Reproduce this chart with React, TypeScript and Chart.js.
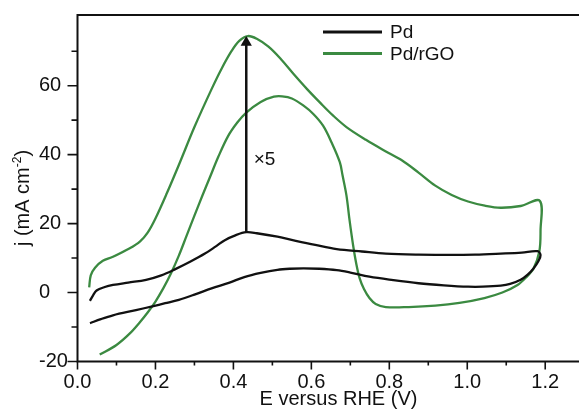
import React, { useEffect, useRef } from 'react';
import { Chart, registerables } from 'chart.js';
Chart.register(...registerables);

// ---- data ----
const seriesNames = ['Pd', 'Pd/rGO'];
const xTickLabels = ['0.0', '0.2', '0.4', '0.6', '0.8', '1.0', '1.2'];
const yTickLabels = ['-20', '0', '20', '40', '60'];

const rgoE = [
  0.03, 0.034, 0.045, 0.065, 0.091, 0.133, 0.16, 0.18, 0.2, 0.23, 0.26, 0.3, 0.344, 0.37, 0.395, 0.415, 0.437,
  0.46, 0.49, 0.521, 0.555, 0.589, 0.623, 0.656, 0.69, 0.74, 0.79, 0.833, 0.875, 0.918, 0.96, 1.002, 1.045,
  1.086, 1.137, 1.186,
  1.188, 1.185, 1.17, 1.15, 1.129, 1.09, 1.044, 0.98, 0.918, 0.85, 0.791, 0.765, 0.749, 0.735, 0.724, 0.715,
  0.707, 0.698, 0.69, 0.68, 0.673, 0.652, 0.63, 0.605, 0.58, 0.55, 0.525, 0.504, 0.47, 0.433, 0.41, 0.386,
  0.361, 0.34, 0.32, 0.3, 0.28, 0.26, 0.24, 0.22, 0.2, 0.18, 0.16, 0.133, 0.1, 0.057,
];
const rgoJ = [
  1.5, 5, 7.2, 9.2, 10.4, 12.8, 14.8, 17.4, 21.5, 29, 37, 48, 59, 65, 70, 73, 74.4,
  73.6, 71.3, 67.8, 63.3, 59, 55, 51.3, 48, 44.3, 41, 38.3, 34.8, 31, 28.3, 26.4, 25.2,
  24.6, 25.1, 26.6,
  18, 12, 7, 4.3, 2.2, 0, -1.6, -3, -3.8, -4.2, -4.2, -3.3, -1.6, 1, 4.1, 8.5,
  13.8, 21, 28.2, 34, 37.8, 43.5, 48.4, 51.8, 54.2, 56.3, 56.9, 56.8, 55.3, 52.2, 49.3, 45.3,
  39.3, 33.5, 28, 22.3, 16.5, 10.7, 5.6, 1.2, -2.6, -5.8, -8.6, -12, -15.2, -18,
];

const pdE = [
  0.032, 0.04, 0.049, 0.07, 0.091, 0.13, 0.176, 0.215, 0.251, 0.29, 0.327, 0.355, 0.378, 0.405, 0.433, 0.46,
  0.513, 0.56, 0.61, 0.665, 0.73, 0.791, 0.875, 0.96, 1.02, 1.086, 1.14, 1.18,
  1.188, 1.182, 1.17, 1.155, 1.137, 1.11, 1.086, 1.04, 1.002, 0.94, 0.875, 0.81, 0.749, 0.7, 0.665, 0.62, 0.58,
  0.545, 0.513, 0.47, 0.428, 0.39, 0.344, 0.3, 0.26, 0.225, 0.192, 0.15, 0.091, 0.06, 0.032,
];
const pdJ = [
  -2.4, -0.8, 0.6, 1.6, 2.2, 2.9, 3.7, 5, 6.8, 9, 11.3, 13.4, 15.2, 16.6, 17.5, 17.2,
  16.2, 15, 13.8, 12.6, 11.9, 11.3, 11, 10.9, 11, 11.3, 11.6, 12,
  10.9, 9, 7, 5.2, 3.7, 2.5, 2, 1.7, 1.7, 2.1, 2.7, 3.6, 4.6, 5.8, 6.5, 6.9, 7,
  6.9, 6.6, 5.7, 4.5, 2.9, 1.2, -0.6, -2.1, -3.1, -4, -5.1, -6.6, -7.7, -8.9,
];

const arrowE = [0.433, 0.433];
const arrowJ = [17.5, 72.5];
const noteText = '×5';
const notePos = [0.452, 38.4];

const GREEN = '#3b8a41';
const BLACK = '#111111';
const FONT = '"Liberation Sans", Arial, Helvetica, sans-serif';

const toXY = (xs: number[], ys: number[]) => xs.map((x, i) => ({ x, y: ys[i] }));

const decor = {
  id: 'decor',
  afterDraw(chart: any) {
    const { ctx, chartArea: a, scales } = chart;
    const xs = scales.x;
    const ys = scales.y;
    ctx.save();
    // frame
    ctx.strokeStyle = BLACK;
    ctx.lineWidth = 2;
    ctx.beginPath();
    ctx.moveTo(a.left - 1, a.top);
    ctx.lineTo(chart.width, a.top);
    ctx.moveTo(a.left, a.top);
    ctx.lineTo(a.left, a.bottom + 1);
    ctx.moveTo(a.left - 1, a.bottom);
    ctx.lineTo(chart.width, a.bottom);
    ctx.stroke();
    // ticks
    ctx.lineWidth = 1.6;
    ctx.beginPath();
    xs.ticks.forEach((t: any) => {
      const px = xs.getPixelForValue(t.value);
      const major = t.label !== '';
      ctx.moveTo(px, a.bottom);
      ctx.lineTo(px, a.bottom + (major ? 8 : 4));
    });
    ys.ticks.forEach((t: any) => {
      if (t.value > 75) return;
      const py = ys.getPixelForValue(t.value);
      const major = t.label !== '';
      ctx.moveTo(a.left, py);
      ctx.lineTo(a.left - (major ? 10 : 6), py);
    });
    ctx.stroke();

    // note
    ctx.fillStyle = BLACK;
    ctx.font = `19px ${FONT}`;
    ctx.textAlign = 'left';
    ctx.textBaseline = 'middle';
    ctx.fillText(noteText, xs.getPixelForValue(notePos[0]), ys.getPixelForValue(notePos[1]));

    // legend
    const colors = [BLACK, GREEN];
    ctx.font = `19px ${FONT}`;
    seriesNames.forEach((name, i) => {
      const ly = 32 + i * 21.5;
      ctx.strokeStyle = colors[i];
      ctx.lineWidth = 3;
      ctx.beginPath();
      ctx.moveTo(323, ly);
      ctx.lineTo(382, ly);
      ctx.stroke();
      ctx.fillStyle = BLACK;
      ctx.fillText(name, 390, ly + 1);
    });

    // x title
    ctx.font = `20px ${FONT}`;
    ctx.textAlign = 'center';
    ctx.textBaseline = 'alphabetic';
    ctx.fillText('E versus RHE (V)', 338.5, 405);

    // y title with superscript
    ctx.save();
    ctx.translate(29, 198);
    ctx.rotate(-Math.PI / 2);
    const big = `20px ${FONT}`;
    const small = `12px ${FONT}`;
    const parts = [
      { t: 'j (mA cm', f: big, dy: 0 },
      { t: '-2', f: small, dy: -8 },
      { t: ')', f: big, dy: 0 },
    ];
    let total = 0;
    parts.forEach((p) => {
      ctx.font = p.f;
      total += ctx.measureText(p.t).width;
    });
    let cx = -total / 2;
    ctx.textAlign = 'left';
    parts.forEach((p) => {
      ctx.font = p.f;
      ctx.fillText(p.t, cx, p.dy);
      cx += ctx.measureText(p.t).width;
    });
    ctx.restore();

    ctx.restore();
  },
};

export default function App() {
  const ref = useRef<HTMLCanvasElement | null>(null);
  useEffect(() => {
    if (!ref.current) return;
    const chart = new Chart(ref.current, {
      type: 'scatter',
      data: {
        datasets: [
          {
            label: 'arrow',
            data: toXY(arrowE, arrowJ),
            showLine: true,
            borderColor: BLACK,
            backgroundColor: BLACK,
            borderWidth: 2.5,
            pointStyle: 'triangle',
            pointRadius: [0, 6.5],
            pointBorderWidth: 0,
            tension: 0,
          },
          {
            label: seriesNames[0],
            data: toXY(pdE, pdJ),
            showLine: true,
            borderColor: BLACK,
            borderWidth: 2.3,
            pointRadius: 0,
            tension: 0.35,
          },
          {
            label: seriesNames[1],
            data: toXY(rgoE, rgoJ),
            showLine: true,
            borderColor: GREEN,
            borderWidth: 2.3,
            pointRadius: 0,
            tension: 0.35,
          },
        ],
      },
      plugins: [decor],
      options: {
        animation: false,
        responsive: false,
        devicePixelRatio: 1,
        layout: { padding: { top: 13, left: 39, right: 0, bottom: 0 } },
        plugins: { legend: { display: false }, tooltip: { enabled: false } },
        scales: {
          x: {
            type: 'linear',
            min: 0,
            max: 1.27,
            grid: { display: false, drawTicks: false },
            border: { display: false },
            afterFit: (s: any) => {
              s.height = 47.5;
            },
            ticks: {
              stepSize: 0.1,
              includeBounds: false,
              autoSkip: false,
              maxRotation: 0,
              padding: 9,
              color: BLACK,
              font: { family: FONT, size: 20 },
              callback: (v: any) => {
                const s = Number(v).toFixed(1);
                return xTickLabels.includes(s) ? s : '';
              },
            },
          },
          y: {
            type: 'linear',
            min: -20,
            max: 80.5,
            grid: { display: false, drawTicks: false },
            border: { display: false },
            afterFit: (s: any) => {
              s.width = 38.5;
            },
            ticks: {
              stepSize: 10,
              includeBounds: false,
              autoSkip: false,
              crossAlign: 'far',
              color: BLACK,
              font: { family: FONT, size: 20 },
              callback: (v: any) => {
                const s = String(Math.round(Number(v)));
                return yTickLabels.includes(s) ? s : '';
              },
            },
          },
        },
      },
    } as any);
    return () => chart.destroy();
  }, []);
  return (
    <canvas
      ref={ref}
      width={579}
      height={409}
      style={{ position: 'absolute', left: 0, top: 0, width: 579, height: 409, background: '#fff' }}
    />
  );
}
